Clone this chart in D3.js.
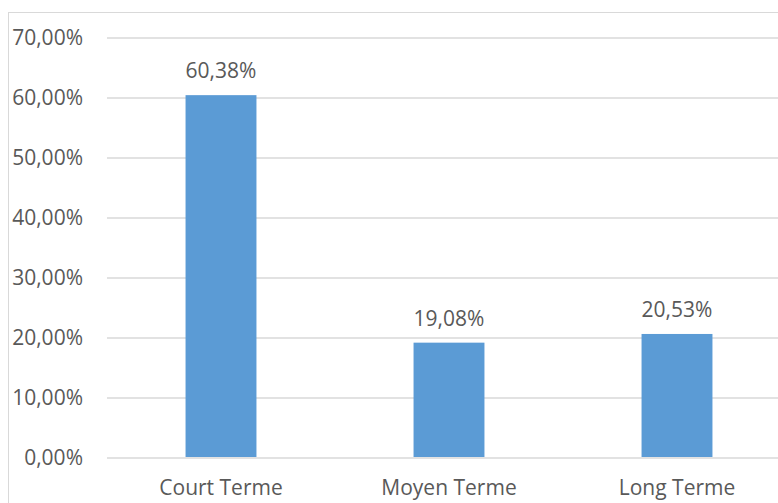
<!DOCTYPE html>
<html>
<head>
<meta charset="utf-8">
<script src="https://cdn.jsdelivr.net/npm/d3@7"></script>
<style>
  body { margin: 0; background: #fff; }
  text { font-family: "Open Sans", sans-serif; fill: #595959; }
</style>
</head>
<body>
<div id="chart"></div>
<script>
// chart data
var categories = ["Court Terme", "Moyen Terme", "Long Terme"];
var values = [60.38, 19.08, 20.53];
var yTicks = [0, 10, 20, 30, 40, 50, 60, 70];

var W = 778, H = 503;
// plot area (right side runs past the picture, like the original crop)
var margin = {left: 107, right: -13, top: 37.5, bottom: 46};
var w = W - margin.left - margin.right;
var h = H - margin.top - margin.bottom;

var fmt = function(v) { return v.toFixed(2).replace(".", ",") + "%"; };

var svg = d3.select("#chart")
            .append("svg")
            .attr("width", W)
            .attr("height", H);

//outer frame
svg.append("rect")
   .attr("x", 8.5)
   .attr("y", 12.5)
   .attr("width", 800)
   .attr("height", 520)
   .attr("fill", "none")
   .attr("stroke", "#d9d9d9");

var g = svg.append("g")
           .attr("transform", "translate(" + margin.left + "," + margin.top + ")");

var x = d3.scaleBand()
          .domain(categories)
          .range([0, w])
          .paddingInner(0.689)
          .paddingOuter(0.689 / 2);

var y = d3.scaleLinear()
          .domain([0, 70])
          .range([h, 0]);

//gridlines
g.selectAll(".grid")
 .data(yTicks)
 .enter()
 .append("line")
 .attr("x1", 0)
 .attr("x2", w)
 .attr("y1", function(d) { return Math.round(y(d)) + 0.5; })
 .attr("y2", function(d) { return Math.round(y(d)) + 0.5; })
 .attr("stroke", "#d9d9d9")
 .attr("stroke-width", 1.3);

//y labels
g.selectAll(".ylab")
 .data(yTicks)
 .enter()
 .append("text")
 .attr("x", -24)
 .attr("y", function(d) { return y(d) + 7.5; })
 .attr("text-anchor", "end")
 .style("font-size", "21px")
 .text(fmt);

//bars
g.selectAll(".bar")
 .data(values)
 .enter()
 .append("rect")
 .attr("x", function(d, i) { return x(categories[i]); })
 .attr("y", function(d) { return y(d); })
 .attr("width", x.bandwidth())
 .attr("height", function(d) { return h - y(d); })
 .attr("fill", "#5b9bd5");

//value labels
g.selectAll(".val")
 .data(values)
 .enter()
 .append("text")
 .attr("x", function(d, i) { return x(categories[i]) + x.bandwidth() / 2; })
 .attr("y", function(d) { return y(d) - 17; })
 .attr("text-anchor", "middle")
 .style("font-size", "21px")
 .text(fmt);

//category labels
g.selectAll(".cat")
 .data(categories)
 .enter()
 .append("text")
 .attr("x", function(d) { return x(d) + x.bandwidth() / 2; })
 .attr("y", h + 38)
 .attr("text-anchor", "middle")
 .style("font-size", "21px")
 .text(function(d) { return d; });
</script>
</body>
</html>
